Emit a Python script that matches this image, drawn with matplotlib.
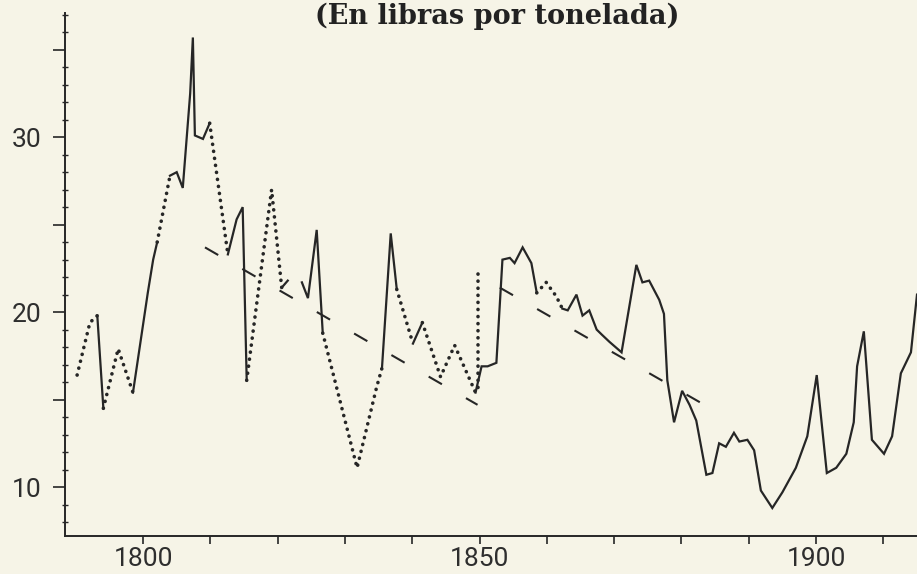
import numpy as np
import matplotlib
matplotlib.use("Agg")
import matplotlib.pyplot as plt
from matplotlib.ticker import FixedLocator, NullFormatter

nan = np.nan

# ---- data (years, pounds per ton) ----
solid_years = [1793.2, 1794.1, nan,
               1798.5, 1800.7, 1801.5, 1802.1, nan,
               1804.0, 1805.0, 1805.9, 1807.0, 1807.4, 1807.7, 1808.9, 1809.9, nan,
               1812.6, 1813.9, 1814.8, 1815.4, nan,
               1820.6, 1821.5, nan,
               1823.6, 1824.5, 1825.8, 1826.7, nan,
               1835.5, 1836.8, 1837.7, nan,
               1840.1, 1841.5, nan,
               1849.4, 1850.3, 1851.2, 1852.5, 1853.4, 1854.5, 1855.2, 1856.4, 1857.7, 1858.5, nan,
               1862.3, 1863.1, 1864.4, 1865.3, 1866.3, 1867.4, 1868.2, 1869.3, 1871.1,
               1873.3, 1874.2, 1875.2, 1876.7, 1877.4, 1877.9, 1878.9, 1880.1, 1881.2,
               1882.2, 1883.7, 1884.6, 1885.6, 1886.6, 1887.8, 1888.6, 1889.8, 1890.8,
               1891.8, 1893.5, 1895.0, 1897.0, 1898.7, 1900.1, 1901.6, 1903.0, 1904.5,
               1905.6, 1906.1, 1907.1, 1908.3, 1910.1, 1911.3, 1912.6, 1914.1, 1915.0]
solid_values = [19.8, 14.5, nan,
                15.4, 21.1, 23.0, 24.0, nan,
                27.8, 28.0, 27.1, 32.5, 35.7, 30.1, 29.9, 30.8, nan,
                23.3, 25.3, 26.0, 16.1, nan,
                21.4, 21.8, nan,
                21.7, 20.8, 24.7, 18.8, nan,
                16.8, 24.5, 21.3, nan,
                18.2, 19.4, nan,
                15.4, 16.9, 16.9, 17.1, 23.0, 23.1, 22.8, 23.7, 22.8, 21.1, nan,
                20.2, 20.1, 21.0, 19.8, 20.1, 19.0, 18.7, 18.3, 17.7,
                22.7, 21.7, 21.8, 20.7, 19.9, 16.1, 13.7, 15.5, 14.7,
                13.8, 10.7, 10.8, 12.5, 12.3, 13.1, 12.6, 12.7, 12.1,
                9.8, 8.8, 9.7, 11.1, 12.9, 16.4, 10.8, 11.1, 11.9,
                13.7, 16.9, 18.9, 12.7, 11.9, 12.9, 16.5, 17.7, 21.0]

dotted_years = [1790.2, 1792.1, 1793.2, nan,
                1794.1, 1796.3, 1798.5, nan,
                1802.1, 1804.0, nan,
                1809.9, 1812.6, nan,
                1815.4, 1819.1, 1820.6, nan,
                1826.7, 1831.8, 1834.7, 1835.5, nan,
                1837.7, 1840.1, nan,
                1841.5, 1844.2, 1846.3, 1849.4, nan,
                1858.5, 1859.9, 1861.4, 1862.3]
dotted_values = [16.4, 19.4, 19.8, nan,
                 14.5, 17.9, 15.4, nan,
                 24.0, 27.8, nan,
                 30.8, 23.3, nan,
                 16.1, 27.0, 21.4, nan,
                 18.8, 11.1, 15.7, 16.8, nan,
                 21.3, 18.2, nan,
                 19.4, 16.3, 18.1, 15.4, nan,
                 21.1, 21.7, 20.9, 20.2]

break_years = [1849.7, 1849.7]
break_values = [22.2, 15.4]

trend1_years = [1809.2, 1849.7]
trend1_values = [23.7, 14.7]
trend2_years = [1853.0, 1883.4]
trend2_values = [21.4, 14.7]

y_major = [10, 15, 20, 25, 30, 35]
y_labels = ["10", "", "20", "", "30", ""]
x_ticks = list(range(1800, 1911, 10))
x_labels = ["1800", "", "", "", "", "1850", "", "", "", "", "1900", ""]
title = "(En libras por tonelada)"

# ---- figure ----
plt.rcParams["lines.scale_dashes"] = False
bg = "#f6f4e7"
ink = "#262626"
W, H = 917, 574
fig = plt.figure(figsize=(W / 100, H / 100), dpi=100, facecolor=bg)
ax = fig.add_axes([65 / W, 38 / H, (W - 65) / W, (536 - 13) / H])
ax.set_facecolor(bg)

ax.plot(solid_years, solid_values, color=ink, lw=1.6, solid_joinstyle="miter")
ax.plot(dotted_years, dotted_values, color=ink, lw=2.6,
        linestyle=(0, (0.1, 5)), dash_capstyle="round")
ax.plot(break_years, break_values, color=ink, lw=2.6,
        linestyle=(0, (0.1, 5)), dash_capstyle="round")
for ty, tv in ((trend1_years, trend1_values), (trend2_years, trend2_values)):
    ax.plot(ty, tv, color=ink, lw=1.5, linestyle=(0, (11, 20)))

ax.set_xlim(1788.4, 1915.0)
ax.set_ylim(7.2, 37.1)

for s in ("top", "right"):
    ax.spines[s].set_visible(False)
for s in ("left", "bottom"):
    ax.spines[s].set_color(ink)
    ax.spines[s].set_linewidth(1.4)

ax.yaxis.set_major_locator(FixedLocator(y_major))
ax.set_yticklabels(y_labels)
ax.yaxis.set_minor_locator(FixedLocator([v for v in range(8, 38) if v % 5]))
ax.yaxis.set_minor_formatter(NullFormatter())
ax.set_xticks(x_ticks)
ax.set_xticklabels(x_labels)

for t in ax.get_yticklabels() + ax.get_xticklabels():
    t.set_fontfamily(["Roboto", "DejaVu Sans"])
    t.set_fontsize(19)
    t.set_fontweight("normal")
    t.set_color("#2e2e2e")

ax.tick_params(axis="y", which="major", direction="out", length=9, width=1.2,
               color=ink, pad=8)
ax.tick_params(axis="y", which="minor", direction="inout", length=5, width=1.0,
               color=ink)
ax.tick_params(axis="x", which="major", direction="out", length=6, width=1.2,
               color=ink, pad=2)

fig.text(497 / W, 1 - 16 / H, title, ha="center", va="center",
         fontfamily=["DejaVu Serif"], fontweight="bold",
         fontsize=19.5, color="#222222")

fig.savefig("out.png", dpi=100, facecolor=bg)
